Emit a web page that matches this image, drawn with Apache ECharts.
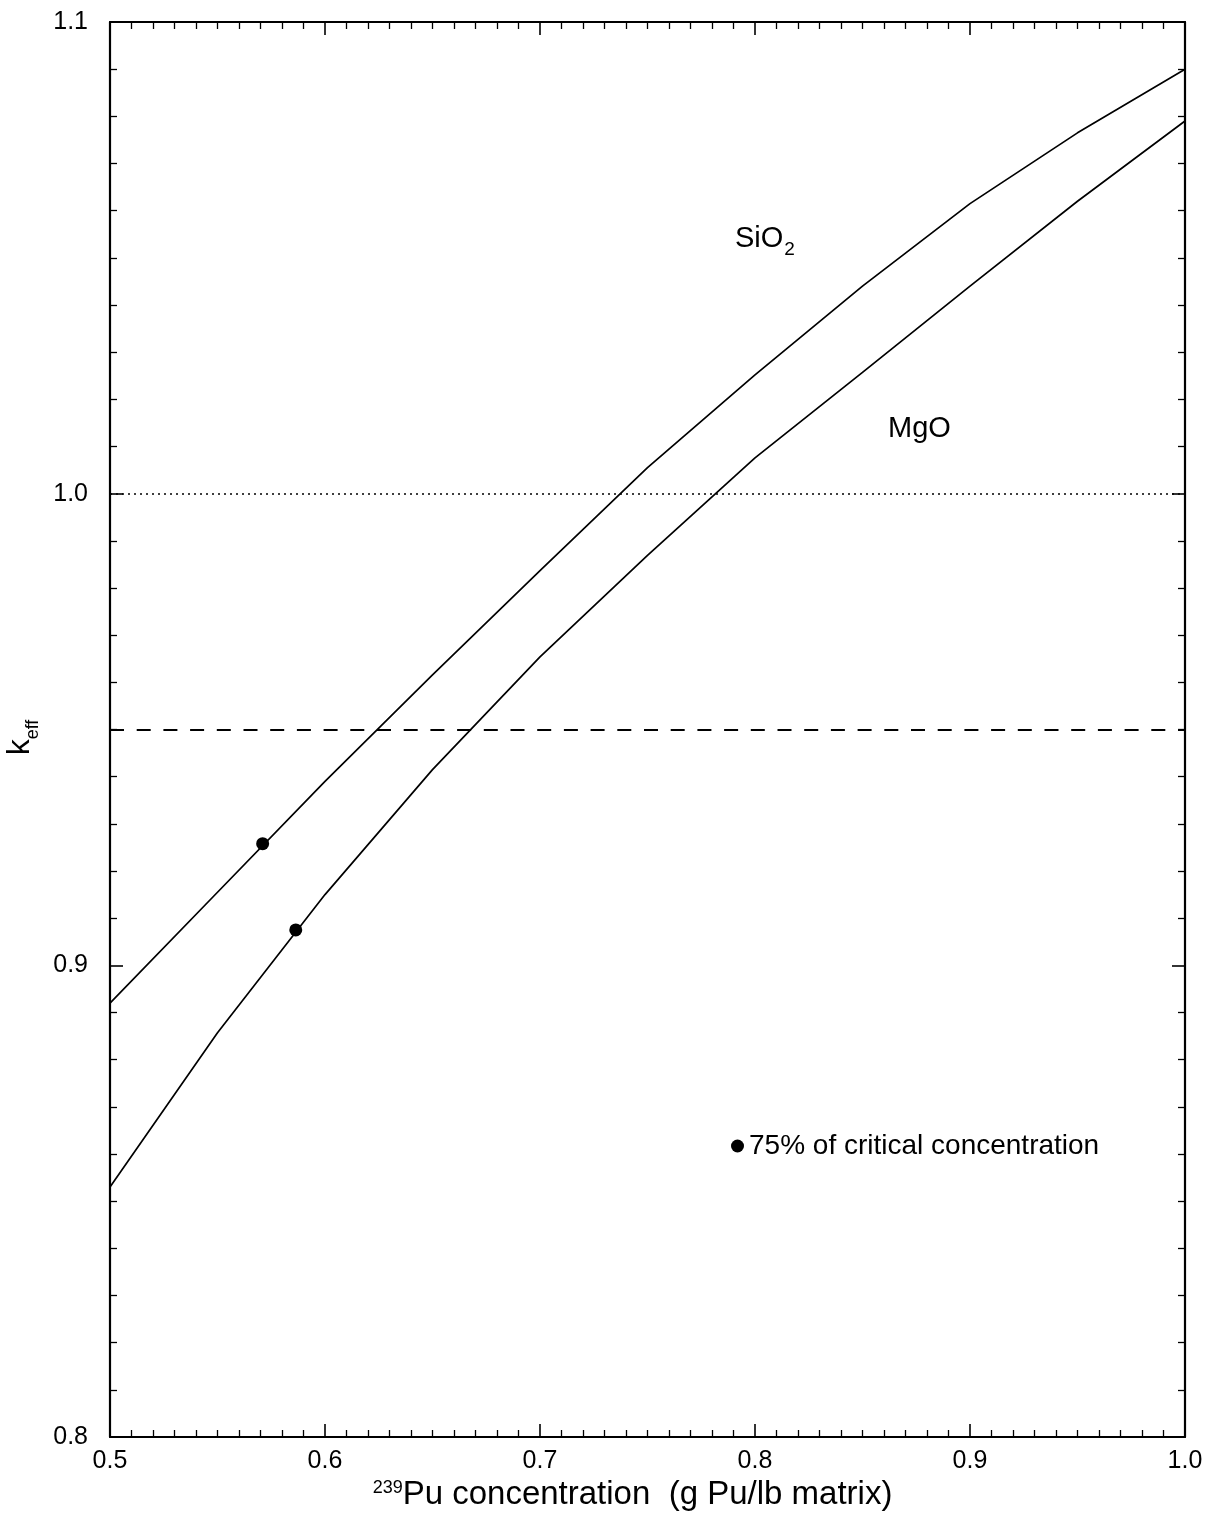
<!DOCTYPE html>
<html>
<head>
<meta charset="utf-8">
<script src="https://cdn.jsdelivr.net/npm/echarts@6/dist/echarts.min.js"></script>
<style>
html,body{margin:0;padding:0;background:#fff;}
#chart{width:1212px;height:1521px;}
</style>
</head>
<body>
<div id="chart"></div>
<script>
// ---- data ----
const concentration = [0.50, 0.55, 0.60, 0.65, 0.70, 0.75, 0.80, 0.85, 0.90, 0.95, 1.00];
const keffSiO2 = [0.892, 0.9155, 0.939, 0.9616, 0.9837, 1.0055, 1.0252, 1.044, 1.0615, 1.0765, 1.090];
const keffMgO  = [0.853, 0.8857, 0.915, 0.9415, 0.9654, 0.9869, 1.0076, 1.0257, 1.044, 1.062, 1.079];
const critX = [0.571, 0.5864];
const critY = [0.9258, 0.9075];
const criticalLevel = 1.0;
const limitLevel = 0.95;
const annotationText = ['SiO2', 'MgO'];
const annotationX = [0.7907, 0.8619];
const annotationY = [1.054, 1.0138];
const xTicks = [0.5, 0.6, 0.7, 0.8, 0.9, 1.0];
const yTicks = [0.8, 0.9, 1.0, 1.1];
const legendLabel = '75% of critical concentration';

const FONT = '"Liberation Sans", Arial, Helvetica, sans-serif';
const pair = (xs, ys) => xs.map((x, i) => [x, ys[i]]);

const axisLine = {show: true, onZero: false, lineStyle: {color: '#000', width: 2.2}};
const tick = {show: true, inside: true, length: 13, lineStyle: {color: '#000', width: 1.6}};
const minor = {show: true, splitNumber: 10, length: 7, lineStyle: {color: '#000', width: 1.3}};

const chart = echarts.init(document.getElementById('chart'), null, {renderer: 'canvas'});
chart.setOption({
  backgroundColor: '#fff',
  animation: false,
  grid: {left: 110, right: 27, top: 22, bottom: 84, containLabel: false, outerBoundsMode: 'none'},
  legend: {
    data: [legendLabel], left: 731, top: 1132, padding: 0, orient: 'vertical',
    icon: 'circle', itemWidth: 13, itemHeight: 13,
    itemStyle: {color: '#000', opacity: 1},
    textStyle: {fontFamily: FONT, fontSize: 28, color: '#000'}
  },
  xAxis: [{
    type: 'value', position: 'bottom', min: xTicks[0], max: xTicks[xTicks.length - 1], interval: 0.1,
    axisLine: axisLine, axisTick: tick, minorTick: minor, splitLine: {show: false},
    axisLabel: {show: true, margin: 12, fontFamily: FONT, fontSize: 25, color: '#000',
      formatter: v => v.toFixed(1)},
    name: '{sup|239}{t|Pu concentration  (g Pu/lb matrix)}',
    nameLocation: 'middle', nameGap: 35,
    nameTextStyle: {padding: [0, 30, 0, 0], rich: {
      sup: {fontFamily: FONT, fontSize: 18, color: '#000', verticalAlign: 'top'},
      t: {fontFamily: FONT, fontSize: 33, color: '#000', verticalAlign: 'top'}
    }}
  }, {
    type: 'value', position: 'top', min: xTicks[0], max: xTicks[xTicks.length - 1], interval: 0.1,
    axisLine: axisLine, axisTick: tick, minorTick: minor, splitLine: {show: false},
    axisLabel: {show: false}
  }],
  yAxis: [{
    type: 'value', position: 'left', min: yTicks[0], max: yTicks[yTicks.length - 1], interval: 0.1,
    axisLine: axisLine, axisTick: tick, minorTick: minor, splitLine: {show: false},
    axisLabel: {show: true, margin: 22, fontFamily: FONT, fontSize: 25, color: '#000',
      formatter: v => v.toFixed(1)},
    name: '{k|k}{s|eff}', nameLocation: 'middle', nameRotate: 90, nameGap: 60,
    nameTextStyle: {padding: [0, 16, 0, 0], rich: {
      k: {fontFamily: FONT, fontSize: 32, color: '#000', lineHeight: 44, verticalAlign: 'middle'},
      s: {fontFamily: FONT, fontSize: 18, color: '#000', lineHeight: 18, verticalAlign: 'bottom'}
    }}
  }, {
    type: 'value', position: 'right', min: yTicks[0], max: yTicks[yTicks.length - 1], interval: 0.1,
    axisLine: axisLine, axisTick: tick, minorTick: minor, splitLine: {show: false},
    axisLabel: {show: false}
  }],
  series: [
    {
      name: 'SiO2', type: 'line', data: pair(concentration, keffSiO2),
      smooth: false,
      showSymbol: false, symbol: 'none', lineStyle: {color: '#000', width: 1.7},
      markLine: {
        silent: true, symbol: 'none', label: {show: false},
        data: [
          {yAxis: criticalLevel, lineStyle: {color: '#000', width: 1.6, type: [2, 4]}},
          {yAxis: limitLevel, lineStyle: {color: '#000', width: 2, type: [14, 12.7]}}
        ]
      }
    },
    {
      name: 'MgO', type: 'line', data: pair(concentration, keffMgO),
      smooth: false,
      showSymbol: false, symbol: 'none', lineStyle: {color: '#000', width: 1.7}
    },
    {
      name: legendLabel, type: 'scatter', data: pair(critX, critY),
      symbol: 'circle', symbolSize: 13, itemStyle: {color: '#000', opacity: 1}
    },
    {
      name: 'annotations', type: 'scatter', symbolSize: 0, silent: true,
      itemStyle: {color: '#000', opacity: 1},
      data: annotationX.map((x, i) => ({value: [x, annotationY[i]], name: annotationText[i]})),
      label: {
        show: true, position: [0, 0], align: 'left', verticalAlign: 'middle', color: '#000',
        formatter: p => p.name === 'SiO2' ? '{m|SiO}{s|2}' : '{m|' + p.name + '}',
        rich: {
          m: {fontFamily: FONT, fontSize: 29, color: '#000', lineHeight: 40, verticalAlign: 'middle'},
          s: {fontFamily: FONT, fontSize: 19, color: '#000', lineHeight: 19, verticalAlign: 'bottom', padding: [0, 0, 0, 1]}
        }
      }
    }
  ]
});
</script>
</body>
</html>
